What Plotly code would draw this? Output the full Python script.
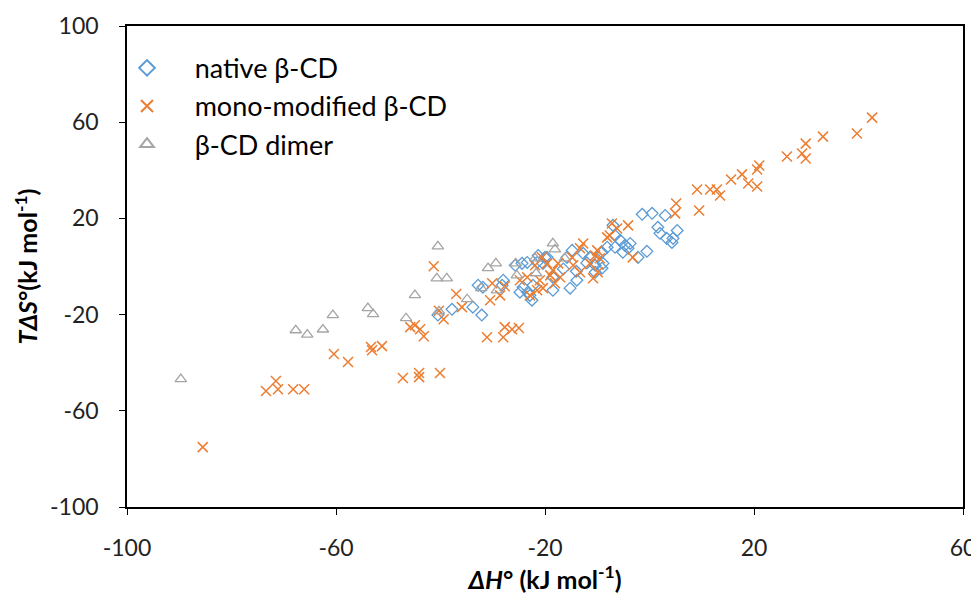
import plotly.graph_objects as go

# native beta-CD
native_x = [-1.4, 0.5, 3.0, 1.6, 2.0, 3.3, 4.3, 5.3, 4.5, -2.2, -0.5, -4.1, -4.7, -5.6, -6.6, -7.0,
            -8.1, -8.9, -9.1, -10.4, -13.9, -15.2, -18.5, -15.8, -14.8, -12.7, -11.4, -20.0, -20.4,
            -18.5, -10.4, -9.1, -6.6, -3.7, -5.1,
            -40.5, -37.8, -33.8, -32.1, -24.8, -24.2, -23.3, -22.3, -23.4, -24.4, -21.5, -21.3,
            -19.6, -22.9, -22.5, -28.0, -28.2, -31.9, -32.8, -25.7, -14.0, -16.5, -12.0]
native_y = [21.7, 22.1, 21.2, 16.3, 13.8, 11.7, 10.0, 15.0, 11.7, 3.8, 6.3, 7.6, 8.8, 10.9, 12.9, 17.1,
            8.0, 1.3, -0.7, -2.4, -5.7, -9.0, -9.9, 3.8, 6.7, 5.5, 3.8, 3.8, 1.3,
            -4.5, 0.5, 5.9, 8.0, 9.6, 5.9,
            -20.2, -17.8, -16.9, -20.2, -10.7, -8.6, -10.7, -7.8, 1.7, 1.3, 1.7, 4.6,
            3.8, -12.0, -14.0, -5.7, -7.8, -8.6, -7.8, 0.5, -2.0, -1.0, 1.5]

# mono-modified beta-CD
mono_x = [-85.5, -73.4, -71.5, -71.1, -68.2, -66.1, -60.4, -57.7, -53.3, -53.1, -51.2, -47.2,
          -44.1, -44.1, -40.1, -41.3, -45.8, -44.9, -43.9, -43.2, -40.3, -39.4, -37.0, -35.9,
          -31.1, -27.7, -26.3, -25.0, -28.0, -30.5, -30.1, -27.7, -28.6, -24.8, -22.9, -21.5,
          -21.0, -23.4, -21.9, -19.6, -20.6,
          -10.0, -12.7, -13.3, -10.4, -9.5, -11.4, -14.6, -14.8, -17.5, -18.5, -17.1, -18.1,
          -10.8, -9.9, -13.3, -20.4, -19.0,
          -3.2, -4.1, -7.2, -6.2, -7.6, -8.1,
          4.9, 5.1, 9.5, 9.1, 11.6, 12.9, 13.5, 15.6, 17.7, 18.9, 20.6, 21.0, 20.6, 26.3,
          29.2, 29.9, 29.9, 33.2, 39.7, 42.6]
mono_y = [-75.1, -51.8, -47.6, -51.0, -51.0, -51.0, -36.4, -39.7, -33.5, -34.8, -33.1, -46.4,
          -44.3, -46.0, -44.3, 0.1, -25.2, -24.4, -26.1, -29.0, -18.4, -21.9, -11.4, -16.9,
          -29.4, -25.2, -26.1, -25.6, -29.4, -14.0, -7.0, -8.2, -12.0, -5.7, -12.0, -9.9,
          -5.7, -4.5, 0.5, 1.3, 3.8,
          6.7, 9.6, 7.6, 4.6, 3.4, 1.3, 0.5, 3.8, 1.3, -1.6, -4.5, -7.0,
          -4.9, -2.4, -2.4, -9.0, -3.7,
          3.8, 17.1, 17.9, 15.8, 12.9, 12.1,
          22.1, 26.2, 23.3, 32.0, 32.0, 32.0, 29.5, 36.2, 38.3, 34.5, 33.3, 42.0, 40.3, 45.7,
          47.0, 44.9, 51.1, 54.0, 55.3, 61.9]

# beta-CD dimer
dimer_x = [-89.7, -67.7, -65.5, -62.5, -60.6, -53.9, -52.9, -46.6, -44.9, -40.7, -40.5, -38.8,
           -40.3, -34.9, -32.2, -30.9, -29.4, -29.2, -25.6, -25.4, -21.9, -21.7, -18.5, -18.1, -16.2]
dimer_y = [-46.8, -26.5, -28.3, -26.2, -20.2, -17.3, -19.8, -21.5, -11.9, -4.9, 8.4, -4.9,
           -18.6, -13.6, -9.0, -0.7, 1.3, -9.9, 1.3, -3.7, 3.4, -2.8, 9.6, 7.1, 3.4]

series_names = ["native β-CD", "mono-modified β-CD", "β-CD dimer"]

x_ticks = [-100, -60, -20, 20, 60]
y_ticks = [-100, -60, -20, 20, 60, 100]

FONT = "Lato, 'Open Sans', sans-serif"
PAD = "\u00a0" * 4

fig = go.Figure()
fig.add_trace(go.Scatter(x=native_x, y=native_y, mode="markers", name=PAD + series_names[0],
                         marker=dict(symbol="diamond-open", size=9, color="#5B9BD5",
                                     line=dict(width=1.3, color="#5B9BD5"))))
fig.add_trace(go.Scatter(x=mono_x, y=mono_y, mode="markers", name=PAD + series_names[1],
                         marker=dict(symbol="x-thin", size=10, color="#ED7D31",
                                     line=dict(width=1.5, color="#ED7D31"))))
fig.add_trace(go.Scatter(x=dimer_x, y=dimer_y, mode="markers", name=PAD + series_names[2],
                         marker=dict(symbol="triangle-up-open", size=10, color="#A5A5A5",
                                     line=dict(width=1.3, color="#A5A5A5"))))

axis_common = dict(showgrid=False, zeroline=False, showline=True, linecolor="black",
                   linewidth=1.5, mirror=True, ticks="outside", ticklen=6, tickcolor="black",
                   tickfont=dict(family=FONT, size=23, color="#222"), automargin=False)

fig.update_layout(
    width=979, height=601,
    margin=dict(l=119, r=24, t=18, b=102, autoexpand=False),
    plot_bgcolor="white", paper_bgcolor="white",
    font=dict(family=FONT, color="black"),
    xaxis=dict(range=[-100, 60], tickvals=x_ticks, ticktext=[str(v) for v in x_ticks],
               ticklabelstandoff=14,
               title=dict(text="<b><i>ΔH</i>° (kJ mol<sup>-1</sup>)</b>",
                          font=dict(family=FONT, size=25), standoff=10),
               **axis_common),
    yaxis=dict(range=[-100, 100], tickvals=y_ticks, ticktext=[str(v) for v in y_ticks],
               ticklabelstandoff=16,
               title=dict(text="<b><i>TΔS</i>°(kJ mol<sup>-1</sup>)</b>",
                          font=dict(family=FONT, size=25), standoff=5),
               **axis_common),
    legend=dict(x=0.0, y=0.963, xanchor="left", yanchor="top",
                font=dict(family=FONT, size=27, color="black"),
                bgcolor="rgba(0,0,0,0)", itemsizing="constant"),
    showlegend=True,
)

fig.write_html("out.html")
